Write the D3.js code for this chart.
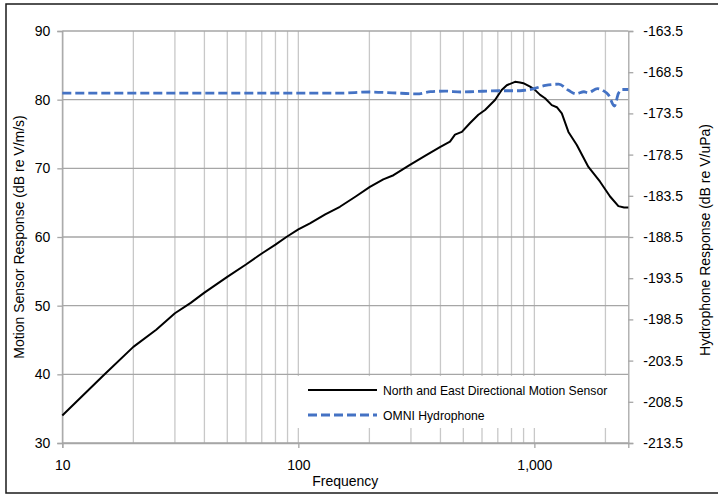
<!DOCTYPE html>
<html>
<head>
<meta charset="utf-8">
<script src="https://cdn.jsdelivr.net/npm/d3@7"></script>
<style>
  html, body { margin: 0; padding: 0; background: #fff; }
  svg text { font-family: "Liberation Sans", Arial, sans-serif; fill: #000; }
</style>
</head>
<body>
<svg id="chart" width="718" height="495"></svg>
<script>
// ---- data ----
const motionFreq = [10, 15, 20, 25, 30, 35, 40, 50, 60, 70, 80, 89, 100, 112, 130, 150, 175, 201, 229, 253, 297, 344, 398, 439, 461, 493, 534, 579, 618, 681, 727, 764, 828, 869, 898, 959, 1000, 1058, 1110, 1185, 1245, 1307, 1394, 1513, 1694, 1898, 2093, 2270, 2400, 2500];
const motionResp = [34.0, 39.9, 44.0, 46.5, 48.9, 50.4, 51.9, 54.2, 56.0, 57.6, 58.9, 60.0, 61.1, 62.0, 63.3, 64.4, 65.9, 67.3, 68.4, 69.0, 70.5, 71.8, 73.1, 73.9, 74.9, 75.3, 76.6, 77.8, 78.5, 79.95, 81.4, 82.1, 82.6, 82.5, 82.4, 81.9, 81.5, 80.7, 80.2, 79.2, 78.9, 78.0, 75.3, 73.4, 70.2, 68.05, 65.9, 64.5, 64.3, 64.3];
const hydroFreq = [10, 50, 100, 150, 201, 250, 318, 363, 419, 489, 558, 716, 869, 978, 1115, 1267, 1395, 1500, 1622, 1686, 1851, 1961, 2060, 2184, 2268, 2357, 2500];
const hydroResp = [-171.05, -171.05, -171.05, -171.05, -170.9, -171.0, -171.13, -170.87, -170.8, -170.9, -170.85, -170.75, -170.75, -170.55, -170.1, -169.95, -170.7, -171.13, -170.87, -171.0, -170.5, -170.75, -171.25, -172.6, -171.1, -170.6, -170.6];
const leftTicks = [30, 40, 50, 60, 70, 80, 90];
const rightTicks = [-213.5, -208.5, -203.5, -198.5, -193.5, -188.5, -183.5, -178.5, -173.5, -168.5, -163.5];
const xMajorTicks = [10, 100, 1000];
const xTickLabels = ["10", "100", "1,000"];
const xMinorTicks = [20, 30, 40, 50, 60, 70, 80, 90, 200, 300, 400, 500, 600, 700, 800, 900, 2000];
const seriesNames = ["North and East Directional Motion Sensor", "OMNI Hydrophone"];

// ---- layout ----
const svg = d3.select("#chart");
const L = 62.3, R = 628.3, T = 31, B = 443;

const x = d3.scaleLog().domain([10, 2500]).range([L, R]);
const yL = d3.scaleLinear().domain([30, 90]).range([B, T]);
const yR = d3.scaleLinear().domain([-213.5, -163.5]).range([B, T]);

// outer frame
svg.append("rect").attr("x", 6).attr("y", 4).attr("width", 720).attr("height", 489)
  .attr("fill", "none").attr("stroke", "#1a1a1a").attr("stroke-width", 1.5);

// vertical gridlines
svg.append("g").selectAll("line").data(xMinorTicks.concat(xMajorTicks)).join("line")
  .attr("x1", d => x(d)).attr("x2", d => x(d)).attr("y1", T).attr("y2", B)
  .attr("stroke", "#c8c8c8").attr("stroke-width", 1.3);

// horizontal gridlines
svg.append("g").selectAll("line").data(leftTicks).join("line")
  .attr("x1", L).attr("x2", R).attr("y1", d => yL(d)).attr("y2", d => yL(d))
  .attr("stroke", "#a6a6a6").attr("stroke-width", 1.3);

// axes
const axL = d3.axisLeft(yL).tickValues(leftTicks).tickSize(5).tickPadding(7);
const gL = svg.append("g").attr("transform", `translate(${L},0)`).call(axL);
const axR = d3.axisRight(yR).tickValues(rightTicks).tickSize(5).tickPadding(10).tickFormat(d3.format(".1f"));
const gR = svg.append("g").attr("transform", `translate(${R},0)`).call(axR);
const axB = d3.axisBottom(x).tickValues(xMajorTicks).tickSize(5).tickPadding(12)
  .tickFormat((d, i) => xTickLabels[i]);
const gB = svg.append("g").attr("transform", `translate(0,${B})`).call(axB);
[gL, gR, gB].forEach(g => {
  g.select(".domain").attr("stroke", "#a6a6a6").attr("stroke-width", 1.3);
  g.selectAll(".tick line").attr("stroke", "#a6a6a6").attr("stroke-width", 1.3);
  g.selectAll(".tick text").attr("font-size", 14).attr("font-family", "Liberation Sans, Arial, sans-serif").attr("fill", "#000");
});
gR.selectAll(".tick text").text(d => d3.format(".1f")(d).replace("\u2212", "-"));

// legend background
const lg = svg.append("g");
lg.append("rect").attr("x", 292).attr("y", 376).attr("width", R - 292 - 1).attr("height", 52).attr("fill", "#fff");

// lines
const lineM = d3.line().x((d, i) => x(motionFreq[i])).y(d => yL(d));
svg.append("path").datum(motionResp).attr("d", lineM)
  .attr("fill", "none").attr("stroke", "#000").attr("stroke-width", 2).attr("stroke-linejoin", "round");
const lineH = d3.line().x((d, i) => x(hydroFreq[i])).y(d => yR(d)).curve(d3.curveMonotoneX);
svg.append("path").datum(hydroResp).attr("d", lineH)
  .attr("fill", "none").attr("stroke", "#4472C4").attr("stroke-width", 2.8).attr("stroke-dasharray", "9,4");

// legend entries
lg.append("line").attr("x1", 308).attr("x2", 377).attr("y1", 390).attr("y2", 390)
  .attr("stroke", "#000").attr("stroke-width", 2);
lg.append("text").attr("x", 383).attr("y", 394.5).attr("font-size", 12.2).text(seriesNames[0]);
lg.append("line").attr("x1", 308).attr("x2", 377).attr("y1", 415).attr("y2", 415)
  .attr("stroke", "#4472C4").attr("stroke-width", 2.8).attr("stroke-dasharray", "9,4");
lg.append("text").attr("x", 383).attr("y", 419.5).attr("font-size", 12.2).text(seriesNames[1]);

// axis titles
svg.append("text").attr("x", (L + R) / 2).attr("y", 486).attr("text-anchor", "middle")
  .attr("font-size", 14).text("Frequency");
svg.append("text").attr("transform", `translate(24,237) rotate(-90)`).attr("text-anchor", "middle")
  .attr("font-size", 14).text("Motion Sensor Response (dB re V/m/s)");
svg.append("text").attr("transform", `translate(710,240) rotate(-90)`).attr("text-anchor", "middle")
  .attr("font-size", 14).text("Hydrophone Response (dB re V/uPa)");
</script>
</body>
</html>
